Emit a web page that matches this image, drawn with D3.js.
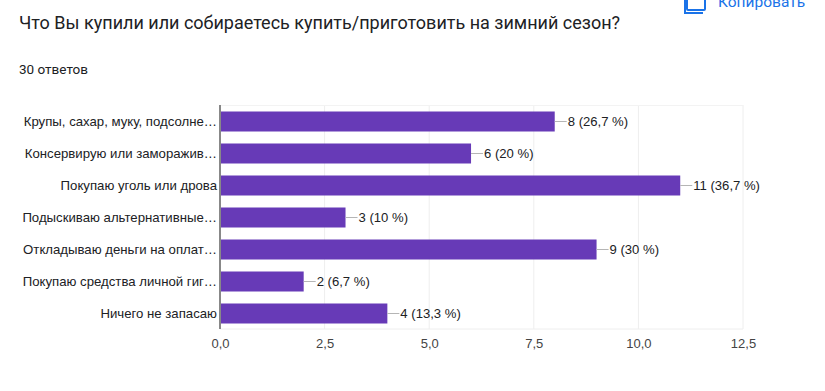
<!DOCTYPE html>
<html>
<head>
<meta charset="utf-8">
<script src="https://cdnjs.cloudflare.com/ajax/libs/d3/7.8.5/d3.min.js"></script>
<style>
html, body { margin: 0; padding: 0; background: #fff; overflow: hidden; }
text { font-family: "Liberation Sans", Arial, sans-serif; }
.head { font-family: Roboto, Arial, sans-serif; }
</style>
</head>
<body>
<svg id="chart" width="825" height="391"></svg>
<script>
const categories = [
    "Крупы, сахар, муку, подсолне…",
    "Консервирую или заморажив…",
    "Покупаю уголь или дрова",
    "Подыскиваю альтернативные…",
    "Откладываю деньги на оплат…",
    "Покупаю средства личной гиг…",
    "Ничего не запасаю"
];
const counts = [8, 6, 11, 3, 9, 2, 4];
const shares = ["26,7", "20", "36,7", "10", "30", "6,7", "13,3"];
const xTicks = [0, 2.5, 5, 7.5, 10, 12.5];

const svg = d3.select("#chart");

// header text, then the copy button cut off at the top edge
svg.append("text").attr("class", "head").attr("x", 19).attr("y", 29)
    .style("font-size", "18px").style("fill", "#202124")
    .text("Что Вы купили или собираетесь купить/приготовить на зимний сезон?");
svg.append("text").attr("class", "head").attr("x", 19).attr("y", 74)
    .style("font-size", "13.5px").style("fill", "#202124")
    .text("30 ответов");

svg.append("rect").attr("x", 687).attr("y", -12).attr("width", 18).attr("height", 22)
    .attr("rx", 1).style("fill", "none").style("stroke", "#1a73e8").style("stroke-width", 2);
svg.append("path").attr("d", "M685 0V13H703")
    .style("fill", "none").style("stroke", "#1a73e8").style("stroke-width", 2);
svg.append("text").attr("class", "head").attr("x", 718).attr("y", 7)
    .style("font-size", "15.5px").style("fill", "#1a73e8").text("Копировать");

const margin = { left: 220, right: 82, top: 105, bottom: 62 };
const width = 825 - margin.left - margin.right;
const height = 391 - margin.top - margin.bottom;

const chart = svg.append("g")
    .attr("transform", "translate(" + margin.left + "," + margin.top + ")");

const x = d3.scaleLinear().domain([0, 12.5]).range([0, width]);
const y = d3.scaleBand().domain(categories).range([0, height]).paddingInner(0.375).paddingOuter(0.1875);

const xAxis = d3.axisBottom(x)
    .tickValues(xTicks)
    .tickSize(0)
    .tickPadding(10)
    .tickFormat(d => d3.format(".1f")(d).replace(".", ","));

chart.append("g")
    .selectAll("line")
    .data(xTicks.slice(1))
    .join("line")
    .attr("x1", d => x(d)).attr("x2", d => x(d))
    .attr("y1", 0).attr("y2", height)
    .style("stroke", "#eeeeee");

chart.append("line")
    .attr("x1", 0).attr("x2", width)
    .attr("y1", 0.5).attr("y2", 0.5)
    .style("stroke", "#f3f3f3");
chart.append("line")
    .attr("x1", 0).attr("x2", width)
    .attr("y1", height).attr("y2", height)
    .style("stroke", "#eeeeee");

const xG = chart.append("g")
    .attr("transform", "translate(0," + height + ")")
    .call(xAxis);
xG.select(".domain").remove();
xG.selectAll("text")
    .style("font-family", "\"Liberation Sans\", Arial, sans-serif")
    .style("font-size", "13px")
    .style("fill", "#444444");

chart.selectAll(".bar")
    .data(counts)
    .join("rect")
    .attr("class", "bar")
    .attr("x", 0)
    .attr("y", (d, i) => y(categories[i]) + 0.5)
    .attr("width", d => x(d))
    .attr("height", y.bandwidth())
    .style("fill", "#673ab7");

// leader line + value label
chart.selectAll(".leader")
    .data(counts)
    .join("line")
    .attr("class", "leader")
    .attr("x1", d => x(d))
    .attr("x2", d => x(d) + 12)
    .attr("y1", (d, i) => y(categories[i]) + y.bandwidth() / 2 + 0.5)
    .attr("y2", (d, i) => y(categories[i]) + y.bandwidth() / 2 + 0.5)
    .style("stroke", "#b5b5b5");

chart.selectAll(".value")
    .data(counts)
    .join("text")
    .attr("class", "value")
    .attr("x", d => x(d) + 13)
    .attr("y", (d, i) => y(categories[i]) + y.bandwidth() / 2 + 0.5)
    .attr("dy", "0.35em")
    .style("font-size", "13.1px")
    .style("fill", "#202124")
    .text((d, i) => d + " (" + shares[i] + " %)");

chart.selectAll(".cat")
    .data(categories)
    .join("text")
    .attr("class", "cat")
    .attr("x", -3)
    .attr("y", d => y(d) + y.bandwidth() / 2 + 0.5)
    .attr("dy", "0.35em")
    .attr("text-anchor", "end")
    .style("font-size", "13.2px")
    .style("fill", "#202124")
    .text(d => d);

chart.append("line")
    .attr("x1", 0).attr("x2", 0)
    .attr("y1", 0).attr("y2", height)
    .style("stroke", "#888888")
    .style("stroke-width", 2);
</script>
</body>
</html>
